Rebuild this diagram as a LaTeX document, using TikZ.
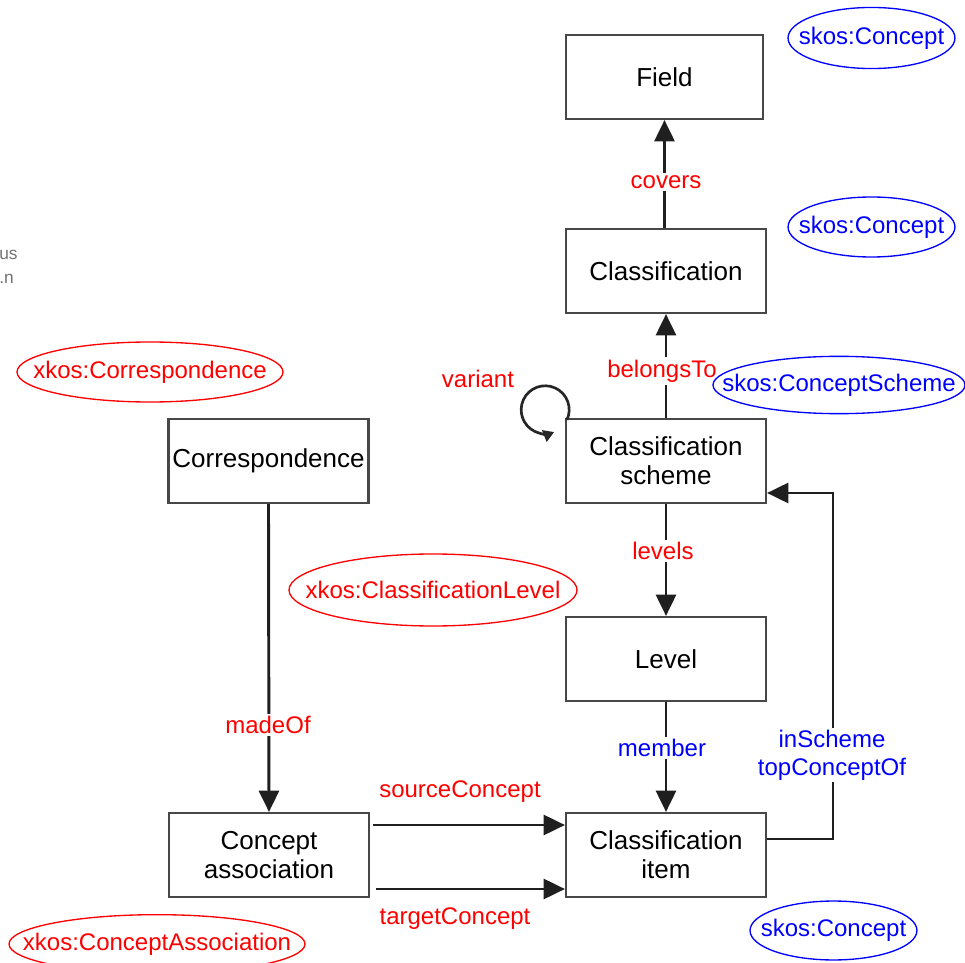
\documentclass[tikz,border=0pt]{standalone}
\usepackage{fontspec}
\setmainfont{Liberation Sans}
\usetikzlibrary{arrows.meta,shapes.geometric}
\begin{document}
\begin{tikzpicture}[x=0.75pt,y=0.75pt,
 box/.style={draw=black!72, line width=1.6pt, minimum width=150pt, minimum height=63pt, inner sep=0pt, align=center, font=\fontsize{19.5}{21.8}\selectfont, text=black},
 conn/.style={line width=2.2pt, draw=black!88, -{Triangle[width=15pt,length=16pt]}},
 lbl/.style={font=\fontsize{18}{21}\selectfont, fill=white, inner sep=2pt},
 rl/.style={lbl, text=red},
 bl/.style={lbl, text=blue},
 otext/.style={font=\fontsize{18}{21}\selectfont, inner sep=0pt},
 rtext/.style={otext, text=red},
 btext/.style={otext, text=blue},
 rring/.style={draw=red, line width=1pt},
 bring/.style={draw=blue, line width=1pt},
 ghost/.style={text=black!55, font=\fontsize{13}{15}\selectfont, inner sep=0pt, anchor=west}
]
\useasboundingbox (0,0) rectangle (965,-963);
\fill[white] (0,0) rectangle (965,-963);

% stray fragments at the left edge
\node[ghost] (g1) at (-1,-255) {us};
\node[ghost] (g2) at (-1,-279) {.n};

% boxes
\node[box, minimum width=147.75pt] (field) at (664.5,-77) {Field};
\node[box] (class) at (666,-271) {Classification};
\node[box] (scheme) at (666,-461) {Classification\\scheme};
\node[box] (level) at (666,-659) {Level};
\node[box] (item) at (666,-855) {Classification\\item};
\node[box] (corr) at (268.5,-461) {Correspondence};
\node[box] (assoc) at (269,-855) {Concept\\association};

% connectors
\draw[conn] (field.south |- class.north) -- (field.south);
\draw[conn] (scheme.north) -- (class.south);
\draw[conn] (scheme.south) -- (level.north);
\draw[conn] (level.south) -- (item.north);
\draw[conn] (corr.south) -- (assoc.north);
\coordinate (s1) at ([shift={(3,30)}]assoc.east);
\coordinate (s2) at ([shift={(6,-34)}]assoc.east);
\draw[conn] (s1) -- (item.west |- s1);
\draw[conn] (s2) -- (item.west |- s2);
\coordinate (bend) at (833,-493);
\draw[conn] ([yshift=12pt]item.east) -| (bend) -- (scheme.east |- bend);
\draw[line width=2pt, draw=black!85, -{Triangle[width=9pt,length=8pt]}]
  ([shift={(2,-2)}]scheme.north west) arc[start angle=-25, end angle=292, radius=18pt];

% labels
\node[rl] (lcovers) at (666,-182) {covers};
\node[rl] (lbelongs) at (662,-371) {belongsTo};
\node[rl] (llevels) at (663,-551) {levels};
\node[bl] (lmember) at (662,-748) {member};
\node[rl] (lmade) at (268,-725) {madeOf};
\node[rl, fill=none] (lsource) at (460,-792) {sourceConcept};
\node[rl, fill=none] (ltarget) at (455,-919) {targetConcept};
\node[bl, align=center, inner sep=1pt, font=\fontsize{18}{21}\selectfont] (lscheme) at (832,-755) {inScheme\\topConceptOf};
\node[rl, fill=none] (lvariant) at (478,-379) {variant};

% class annotations
\node[btext] (e1) at (871.5,-38) {skos:Concept};
\draw[bring] (e1.center) ellipse[x radius=62.6pt, y radius=22.9pt];
\node[btext] (e2) at (871.5,-227) {skos:Concept};
\draw[bring] (e2.center) ellipse[x radius=62.6pt, y radius=22.5pt];
\node[btext] (e3) at (839,-385) {skos:ConceptScheme};
\draw[bring] (e3.center) ellipse[x radius=94.5pt, y radius=21.5pt];
\node[btext] (e4) at (833.5,-930.5) {skos:Concept};
\draw[bring] (e4.center) ellipse[x radius=62.6pt, y radius=22.1pt];
\node[rtext] (e5) at (150,-372) {xkos:Correspondence};
\draw[rring] (e5.center) ellipse[x radius=99.75pt, y radius=22.5pt];
\node[rtext] (e6) at (433,-590) {xkos:ClassificationLevel};
\draw[rring] (e6.center) ellipse[x radius=108pt, y radius=27pt];
\node[rtext] (e7) at (157,-944) {xkos:ConceptAssociation};
\draw[rring] (e7.center) ellipse[x radius=111pt, y radius=22pt];
\end{tikzpicture}
\end{document}
